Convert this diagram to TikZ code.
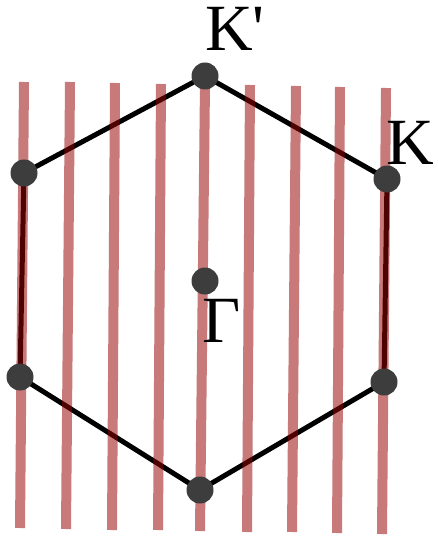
\documentclass[tikz,border=0pt]{standalone}
\usepackage{fontspec}
\setmainfont{Liberation Serif}
\usetikzlibrary{backgrounds}
\definecolor{dotgray}{RGB}{61,61,61}
\definecolor{stripered}{RGB}{151,4,4}
\begin{document}
\begin{tikzpicture}[
    x=1pt, y=-1pt,
    every node/.style={circle, fill=dotgray, inner sep=0pt, minimum size=27pt},
    edge/.style={line width=5pt, black},
    stripe/.style={line width=10pt, draw=stripered, draw opacity=0.53},
    lab/.style={draw=none, fill=none, circle=false, rectangle, minimum size=0pt, inner sep=0pt, anchor=base west, font=\fontsize{66}{66}\selectfont}
]
\useasboundingbox (0,0) rectangle (438,537);

\node (Kp) at (205,76) {};
\node (ul) at (24,173) {};
\node (ll) at (20,377) {};
\node (bt) at (200,490) {};
\node (lr) at (384,382) {};
\node (K)  at (387,179) {};
\node (G)  at (205,281) {};

\begin{pgfonlayer}{background}
\draw[edge] (Kp.center) -- (ul.center) -- (ll.center) -- (bt.center) -- (lr.center) -- (K.center) -- cycle;

\foreach \xt/\yt/\xb/\yb in {24/82/20/528, 70/82/66/529, 115/83/112/530, 161/84/158/530, 205/84/200/531,
                             250/85/247/532, 296/86/292/532, 340/87/337/533, 386/88/382/534}
    \draw[stripe] (\xt,\yt) -- (\xb,\yb);
\end{pgfonlayer}

\node[lab, xshift=0pt, yshift=25pt] (lKp) at (Kp) {K\textquotesingle};
\node[lab, xshift=-1pt, yshift=14pt] (lK) at (K) {K};
\node[lab, xshift=-3pt, yshift=-61pt] (lG) at (G) {Γ};
\end{tikzpicture}
\end{document}
